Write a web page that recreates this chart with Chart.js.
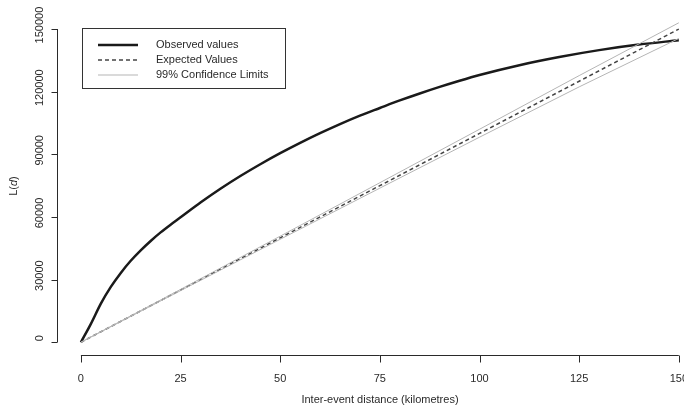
<!DOCTYPE html>
<html>
<head>
<meta charset="utf-8">
<script src="https://cdn.jsdelivr.net/npm/chart.js@4.4.0/dist/chart.umd.min.js"></script>
<style>
  html, body { margin: 0; padding: 0; background: #fff; }
  #wrap { width: 684px; height: 408px; }
</style>
</head>
<body>
<div id="wrap"><canvas id="lChart" width="684" height="408"></canvas></div>
<script>
// Distances (km) and L(d) values
const distances = [0, 2.5, 5, 7.5, 10, 12.5, 15, 17.5, 20, 22.5, 25, 30, 35, 40, 45, 50, 55, 60, 65, 70, 75, 80, 85, 90, 95, 100, 110, 120, 130, 140, 150];
const observed = [0, 8800, 18500, 26500, 33200, 39000, 44000, 48500, 52600, 56300, 59800, 66900, 73500, 79600, 85250, 90550, 95500, 100150, 104500, 108550, 112200, 115800, 119150, 122300, 125250, 128000, 132700, 136600, 139900, 142550, 144650];

const bandDistances = [0, 25, 50, 75, 100, 125, 150];
const expected = [0, 25000, 50000, 75000, 100000, 125000, 150000];
const upperLimit = [0, 25300, 50800, 76400, 102000, 127700, 153000];
const lowerLimit = [0, 24700, 49300, 73800, 98200, 122300, 145500];

const xTicks = [0, 25, 50, 75, 100, 125, 150];
const yTicks = [0, 30000, 60000, 90000, 120000, 150000];

const legendLabels = ['Observed values', 'Expected Values', '99% Confidence Limits'];

function toPoints(xs, ys) {
  return xs.map((x, i) => ({ x: x, y: ys[i] }));
}

const FONT = '11px "Liberation Sans", Arial, sans-serif';
const INK = '#2a2a2a';

// R-style detached axes, titles and legend box
const rAxes = {
  id: 'rAxes',
  afterDraw(chart) {
    const ctx = chart.ctx;
    const xs = chart.scales.x;
    const ys = chart.scales.y;
    const area = chart.chartArea;
    ctx.save();
    ctx.strokeStyle = INK;
    ctx.fillStyle = INK;
    ctx.lineWidth = 1;
    ctx.font = FONT;

    // x axis
    const xb = Math.round(area.bottom) + 0.5;
    ctx.beginPath();
    ctx.moveTo(xs.getPixelForValue(xTicks[0]), xb);
    ctx.lineTo(xs.getPixelForValue(xTicks[xTicks.length - 1]), xb);
    xTicks.forEach(t => {
      const px = Math.round(xs.getPixelForValue(t)) + 0.5;
      ctx.moveTo(px, xb);
      ctx.lineTo(px, xb + 7);
    });
    ctx.stroke();
    ctx.textAlign = 'center';
    ctx.textBaseline = 'middle';
    xTicks.forEach(t => {
      ctx.fillText(String(t), xs.getPixelForValue(t), xb + 23);
    });
    ctx.fillText('Inter-event distance (kilometres)', 380, 400);

    // y axis
    const yl = Math.round(area.left) + 0.5;
    ctx.beginPath();
    ctx.moveTo(yl, ys.getPixelForValue(yTicks[0]));
    ctx.lineTo(yl, ys.getPixelForValue(yTicks[yTicks.length - 1]));
    yTicks.forEach(t => {
      const py = Math.round(ys.getPixelForValue(t)) + 0.5;
      ctx.moveTo(yl, py);
      ctx.lineTo(yl - 6, py);
    });
    ctx.stroke();
    yTicks.forEach(t => {
      ctx.save();
      ctx.translate(40, ys.getPixelForValue(t) - 4);
      ctx.rotate(-Math.PI / 2);
      ctx.fillText(String(t), 0, 0);
      ctx.restore();
    });
    ctx.save();
    ctx.translate(14, 186);
    ctx.rotate(-Math.PI / 2);
    ctx.textAlign = 'left';
    const w1 = ctx.measureText('L(').width;
    ctx.font = 'italic ' + FONT;
    const w2 = ctx.measureText('d').width;
    ctx.font = FONT;
    const w3 = ctx.measureText(')').width;
    const sx = -(w1 + w2 + w3) / 2;
    ctx.fillText('L(', sx, 0);
    ctx.font = 'italic ' + FONT;
    ctx.fillText('d', sx + w1, 0);
    ctx.font = FONT;
    ctx.fillText(')', sx + w1 + w2, 0);
    ctx.restore();

    // legend box
    ctx.strokeStyle = '#333';
    ctx.strokeRect(82.5, 28.5, 203, 60);
    const rows = [45, 60, 75];
    const styles = [
      { color: '#1a1a1a', width: 2.5, dash: [] },
      { color: '#444', width: 1.5, dash: [4, 3] },
      { color: '#b5b5b5', width: 1, dash: [] }
    ];
    rows.forEach((ry, i) => {
      ctx.beginPath();
      ctx.setLineDash(styles[i].dash);
      ctx.strokeStyle = styles[i].color;
      ctx.lineWidth = styles[i].width;
      ctx.moveTo(98, ry);
      ctx.lineTo(138, ry);
      ctx.stroke();
      ctx.setLineDash([]);
      ctx.textAlign = 'left';
      ctx.fillStyle = INK;
      ctx.fillText(legendLabels[i], 156, ry);
    });
    ctx.restore();
  }
};

const ctx = document.getElementById('lChart').getContext('2d');
new Chart(ctx, {
  type: 'line',
  data: {
    datasets: [
      {
        label: 'Upper limit',
        data: toPoints(bandDistances, upperLimit),
        borderColor: '#b5b5b5',
        borderWidth: 1,
        pointRadius: 0,
        tension: 0
      },
      {
        label: 'Lower limit',
        data: toPoints(bandDistances, lowerLimit),
        borderColor: '#b5b5b5',
        borderWidth: 1,
        pointRadius: 0,
        tension: 0
      },
      {
        label: legendLabels[1],
        data: toPoints(bandDistances, expected),
        borderColor: '#444',
        borderWidth: 1.5,
        borderDash: [4, 3],
        pointRadius: 0,
        tension: 0
      },
      {
        label: legendLabels[0],
        data: toPoints(distances, observed),
        borderColor: '#1a1a1a',
        borderWidth: 2.5,
        pointRadius: 0,
        cubicInterpolationMode: 'monotone'
      }
    ]
  },
  options: {
    responsive: false,
    animation: false,
    layout: { padding: { left: 57, right: 0, top: 10, bottom: 53 } },
    plugins: {
      legend: { display: false },
      tooltip: { enabled: false }
    },
    scales: {
      x: { type: 'linear', display: false, min: -6, max: 151.3 },
      y: { type: 'linear', display: false, min: -6120, max: 159120 }
    }
  },
  plugins: [rAxes]
});
</script>
</body>
</html>
